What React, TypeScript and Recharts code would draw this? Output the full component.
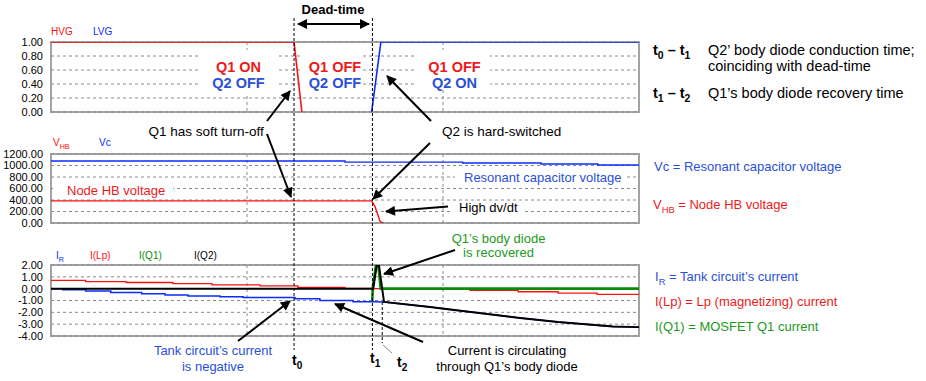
import React from "react";
import { LineChart, Line, XAxis, YAxis, CartesianGrid } from "recharts";

const FONT = "'Liberation Sans', Arial, Helvetica, sans-serif";
const RED = "#ff1010";
const BLUE = "#0a2cff";
const GREEN = "#078a07";
const RED_TXT = "#ec1b1b";
const BLUE_TXT = "#2a4fd8";
const GREEN_TXT = "#1c9a1c";
const GRID = "#8a8a8a";

// time axis (arbitrary units, gridlines at 100 / 200)
const T_MAX = 300;
const gridT = [100, 200];
const t0 = 124;
const t1 = 164;
const t2 = 169;

// plot boxes in page pixels
const X0 = 51;
const X1 = 639;
const xOf = (t: number) => X0 + (t / T_MAX) * (X1 - X0);
const boxes = [
  { top: 42, h: 70 },
  { top: 154, h: 69 },
  { top: 265, h: 71 },
];

// panel 1 - gate drive
const gateTicks = [0, 0.2, 0.4, 0.6, 0.8, 1];
const hvgT = [0, 124, 128];
const hvgV = [1, 1, 0];
const lvgT = [163.6, 168.3, 300];
const lvgV = [0, 1, 1];

// panel 2 - voltages
const voltTicks = [0, 200, 400, 600, 800, 1000, 1200];
const vcT = [0, 150, 210, 250, 279, 300];
const vcV = [1078, 1058, 1043, 1025, 1010, 1010];
const vhbT = [0, 163.6, 165.3, 167.9, 169.6];
const vhbV = [385, 385, 285, 25, 0];

// panel 3 - currents
const curTicks = [-4, -3, -2, -1, 0, 1, 2];
const lpT = [0, 17.7, 38.3, 62.2, 82.1, 106.6, 126, 150, 164, 194.4, 213.8, 238.3, 258.7, 278.6, 300];
const lpV = [0.7, 0.6, 0.52, 0.43, 0.32, 0.23, 0.11, 0.02, 0, -0.06, -0.15, -0.26, -0.37, -0.49, -0.49];
const irT = [0, 6, 6, 17.7, 17.7, 30.5, 30.5, 46.3, 46.3, 58.2, 58.2, 69.9, 69.9, 86.2, 86.2, 98, 98, 124.5, 124.5, 137.2, 137.2, 154.1, 154.1, 163.6, 169.9, 193.4, 198.5, 239.3, 258.7, 286.7, 300];
const irV = [0, 0, -0.09, -0.09, -0.2, -0.2, -0.32, -0.32, -0.43, -0.43, -0.54, -0.54, -0.63, -0.63, -0.69, -0.69, -0.75, -0.75, -0.86, -0.86, -1.0, -1.0, -1.1, -1.1, -1.12, -1.55, -1.66, -2.47, -2.82, -3.19, -3.25];
const q1T = [163.9, 164.2, 165.8, 167.0, 168.2, 300];
const q1V = [-1.03, 0.1, 2, 2, 0, 0];
const q2T = [0, 164.4, 166.2, 167.3, 169.9, 193.4, 198.5, 239.3, 258.7, 286.7, 300];
const q2V = [0, 0, 2, 2, -1.12, -1.55, -1.66, -2.47, -2.82, -3.19, -3.25];

const pts = (ts: number[], vs: number[]) => ts.map((t, i) => ({ t, v: vs[i] }));

function Panel({ box, yDomain, yTicks, children }: any) {
  return (
    <div style={{ position: "absolute", left: 0, top: box.top - 5 }}>
      <LineChart width={X1 + 21} height={box.h + 10} margin={{ top: 5, right: 21, bottom: 5, left: 0 }}>
        <CartesianGrid vertical={false} stroke={GRID} strokeDasharray="3 3" />
        <XAxis type="number" dataKey="t" domain={[0, T_MAX]} hide />
        <YAxis
          type="number"
          domain={yDomain}
          ticks={yTicks}
          interval={0}
          width={X0}
          tickLine={false}
          axisLine={false}
          allowDataOverflow
          tick={{ fontSize: 11, fill: "#000", fontFamily: FONT }}
          tickFormatter={(v: number) => v.toFixed(2)}
        />
        {children}
      </LineChart>
    </div>
  );
}

const Arrow = ({ x1, y1, x2, y2 }: any) => (
  <line x1={x1} y1={y1} x2={x2} y2={y2} stroke="#000" strokeWidth={2} markerEnd="url(#ah)" />
);

const T = ({ x, y, children, size = 13, color = "#000", weight = 400, anchor = "start" }: any) => (
  <text x={x} y={y} fontSize={size} fill={color} fontWeight={weight} textAnchor={anchor} fontFamily={FONT}>
    {children}
  </text>
);

const Box = ({ x, y, w, h }: any) => <rect x={x} y={y} width={w} height={h} fill="#fff" />;

const Sub = ({ s, size }: any) => (
  <tspan dy={size * 0.3} fontSize={size * 0.72}>{s}</tspan>
);

export default function App() {
  return (
    <div style={{ position: "absolute", left: 0, top: 0, width: 926, height: 381, background: "#fff", fontFamily: FONT }}>
      {/* frames and vertical gridlines sit under the charts */}
      <svg width={926} height={381} style={{ position: "absolute", left: 0, top: 0 }}>
        {boxes.map((b, i) => (
          <g key={i}>
            {gridT.map((t) => (
              <line key={t} x1={xOf(t)} y1={b.top} x2={xOf(t)} y2={b.top + b.h} stroke={GRID} strokeDasharray="3 3" />
            ))}
            <rect x={X0} y={b.top} width={X1 - X0} height={b.h} fill="none" stroke="#a3a3a3" strokeWidth={2} />
          </g>
        ))}
      </svg>

      <Panel box={boxes[0]} yDomain={[0, 1]} yTicks={gateTicks}>
        <Line data={pts(hvgT, hvgV)} dataKey="v" stroke={RED} strokeWidth={1.6} dot={false} isAnimationActive={false} />
        <Line data={pts(lvgT, lvgV)} dataKey="v" stroke={BLUE} strokeWidth={1.6} dot={false} isAnimationActive={false} />
      </Panel>
      <Panel box={boxes[1]} yDomain={[0, 1200]} yTicks={voltTicks}>
        <Line data={pts(vcT, vcV)} type="stepAfter" dataKey="v" stroke={BLUE} strokeWidth={1.4} dot={false} isAnimationActive={false} />
        <Line data={pts(vhbT, vhbV)} dataKey="v" stroke={RED} strokeWidth={1.4} dot={false} isAnimationActive={false} />
      </Panel>
      <Panel box={boxes[2]} yDomain={[-4, 2]} yTicks={curTicks}>
        <Line data={pts(lpT, lpV)} type="stepAfter" dataKey="v" stroke={RED} strokeWidth={1.3} dot={false} isAnimationActive={false} />
        <Line data={pts(irT, irV)} dataKey="v" stroke={BLUE} strokeWidth={1.5} dot={false} isAnimationActive={false} />
        <Line data={pts(q1T, q1V)} dataKey="v" stroke={GREEN} strokeWidth={2.6} dot={false} isAnimationActive={false} />
        <Line data={pts(q2T, q2V)} dataKey="v" stroke="#000" strokeWidth={2} dot={false} isAnimationActive={false} />
      </Panel>

      <svg width={926} height={381} style={{ position: "absolute", left: 0, top: 0, pointerEvents: "none" }}>
        <defs>
          <marker id="ah" viewBox="0 0 10 10" refX="9" refY="5" markerUnits="userSpaceOnUse" markerWidth="12" markerHeight="10" orient="auto-start-reverse">
            <path d="M0,0 L10,5 L0,10 z" fill="#000" />
          </marker>
        </defs>

        {/* white label backgrounds */}
        <Box x={200} y={50} w={77} h={46} />
        <Box x={303} y={50} w={59} h={45} />
        <Box x={417} y={50} w={73} h={38} />
        <Box x={53} y={180} w={120} h={17} />
        <Box x={455} y={169} w={172} h={16} />
        <Box x={450} y={203} w={75} h={15} />

        {/* series names */}
        <T x={51} y={35} size={10} color={RED}>HVG</T>
        <T x={93} y={35} size={10} color={BLUE}>LVG</T>
        <T x={53} y={146} size={10} color={RED}>V<Sub s="HB" size={10} /></T>
        <T x={99} y={146} size={10} color={BLUE}>Vc</T>
        <T x={56} y={259} size={10} color={BLUE}>I<Sub s="R" size={10} /></T>
        <T x={90} y={259} size={10} color={RED}>I(Lp)</T>
        <T x={139} y={259} size={10} color={GREEN}>I(Q1)</T>
        <T x={194} y={259} size={10} color="#000">I(Q2)</T>

        {/* switch states */}
        <T x={238.5} y={72} size={14.5} weight={700} color={RED_TXT} anchor="middle">Q1 ON</T>
        <T x={238.5} y={88} size={14.5} weight={700} color={BLUE_TXT} anchor="middle">Q2 OFF</T>
        <T x={335} y={72} size={14.5} weight={700} color={RED_TXT} anchor="middle">Q1 OFF</T>
        <T x={335} y={88} size={14.5} weight={700} color={BLUE_TXT} anchor="middle">Q2 OFF</T>
        <T x={454.5} y={72} size={14.5} weight={700} color={RED_TXT} anchor="middle">Q1 OFF</T>
        <T x={454.5} y={88} size={14.5} weight={700} color={BLUE_TXT} anchor="middle">Q2 ON</T>

        {/* in-plot labels */}
        <T x={67} y={195} color={RED_TXT}>Node HB voltage</T>
        <T x={464} y={182} color={BLUE_TXT}>Resonant capacitor voltage</T>
        <T x={459} y={212}>High dv/dt</T>

        {/* dead time */}
        <T x={333} y={14} size={13} weight={700} anchor="middle">Dead-time</T>
        <line x1={298} y1={24} x2={369} y2={24} stroke="#000" strokeWidth={2} markerStart="url(#ah)" markerEnd="url(#ah)" />

        {/* t0 / t1 / t2 markers */}
        <line x1={xOf(t0)} y1={18} x2={xOf(t0)} y2={350} stroke="#000" strokeWidth={1} strokeDasharray="3 2" />
        <line x1={xOf(t1)} y1={18} x2={xOf(t1)} y2={350} stroke="#000" strokeWidth={1} strokeDasharray="3 2" />
        <line x1={xOf(t2)} y1={302} x2={xOf(t2)} y2={343} stroke="#000" strokeWidth={1} strokeDasharray="3 2" />
        <line x1={383} y1={345} x2={392} y2={353} stroke="#888" strokeWidth={1} />
        <T x={292} y={365} size={14} weight={700}>t<Sub s="0" size={14} /></T>
        <T x={370} y={363} size={14} weight={700}>t<Sub s="1" size={14} /></T>
        <T x={397} y={367} size={14} weight={700}>t<Sub s="2" size={14} /></T>

        {/* annotations */}
        <T x={148.5} y={136} size={13.5}>Q1 has soft turn-off</T>
        <Arrow x1={267} y1={121} x2={290} y2={91} />
        <Arrow x1={267} y1={134} x2={291} y2={197} />
        <T x={442} y={136} size={13.5}>Q2 is hard-switched</T>
        <Arrow x1={431} y1={121} x2={387} y2={76} />
        <Arrow x1={430} y1={143} x2={373} y2={199} />
        <Arrow x1={448} y1={206.5} x2={386} y2={211.5} />

        <T x={498.5} y={243} color={GREEN_TXT} anchor="middle">Q1’s body diode</T>
        <T x={498.5} y={257} color={GREEN_TXT} anchor="middle">is recovered</T>
        <Arrow x1={455} y1={250} x2={384} y2={274} />

        <T x={213} y={355} color={BLUE_TXT} anchor="middle">Tank circuit’s current</T>
        <T x={213} y={371} color={BLUE_TXT} anchor="middle">is negative</T>
        <Arrow x1={238} y1={341} x2={290} y2={301} />

        <T x={507} y={355} anchor="middle">Current is circulating</T>
        <T x={507} y={371} anchor="middle">through Q1’s body diode</T>
        <Arrow x1={423} y1={342} x2={335} y2={304} />

        {/* right-hand notes */}
        <T x={653} y={55} size={14.5} weight={700}>t<Sub s="0" size={14.5} /><tspan dy={-4.35}> – t</tspan><Sub s="1" size={14.5} /></T>
        <T x={708} y={55} size={14.5}>Q2’ body diode conduction time;</T>
        <T x={708} y={71} size={14.5}>coinciding with dead-time</T>
        <T x={653} y={98} size={14.5} weight={700}>t<Sub s="1" size={14.5} /><tspan dy={-4.35}> – t</tspan><Sub s="2" size={14.5} /></T>
        <T x={708} y={98} size={14.5}>Q1’s body diode recovery time</T>

        <T x={654} y={171} color={BLUE_TXT}>Vc = Resonant capacitor voltage</T>
        <T x={653} y={209} color={RED_TXT}>V<Sub s="HB" size={13} /><tspan dy={-3.9}> = Node HB voltage</tspan></T>
        <T x={655} y={281} color={BLUE_TXT}>I<Sub s="R" size={13} /><tspan dy={-3.9}> = Tank circuit’s current</tspan></T>
        <T x={655} y={306} color={RED_TXT}>I(Lp) = Lp (magnetizing) current</T>
        <T x={655} y={331} color={GREEN_TXT}>I(Q1) = MOSFET Q1 current</T>
      </svg>
    </div>
  );
}
